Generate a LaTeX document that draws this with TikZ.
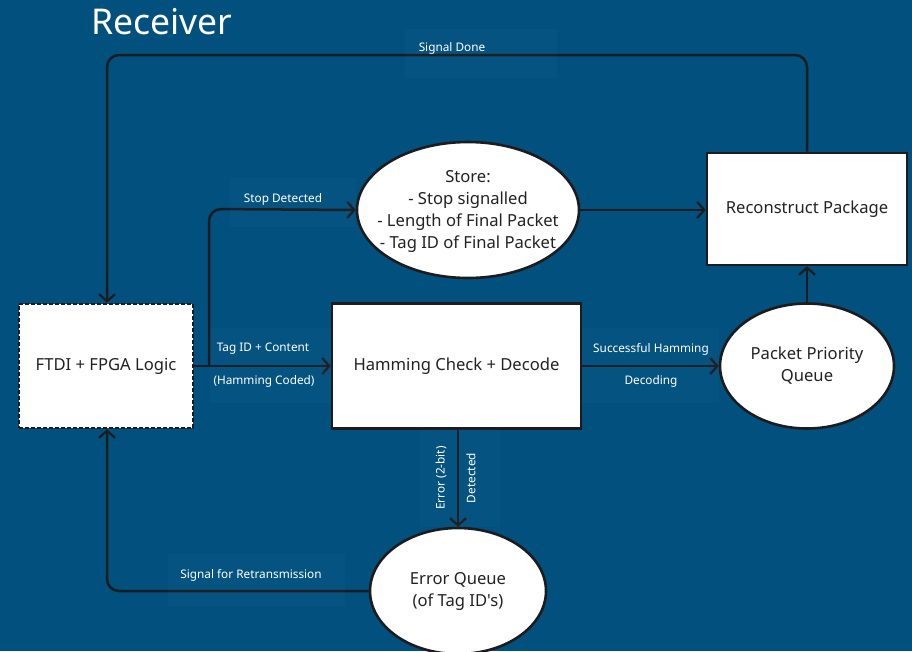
\documentclass[tikz,border=0pt]{standalone}
\usepackage{fontspec}
\setmainfont{Noto Sans}[Ligatures=TeXOff]
\usetikzlibrary{arrows.meta,shapes.geometric}
\definecolor{bgblue}{RGB}{1,80,126}
\definecolor{linec}{RGB}{28,28,30}
\definecolor{txt}{RGB}{34,34,34}
\tikzset{
  conn/.style={draw=linec,line width=2.5pt,rounded corners=12pt},
  arr/.style={-{Straight Barb[length=7pt,width=16pt,line width=2.2pt]}},
  boxn/.style={draw=linec,line width=2.6pt,fill=white,text=txt,font=\fontsize{16.6}{20}\selectfont,align=center},
  elln/.style={ellipse,draw=linec,line width=2.6pt,fill=white,text=txt,font=\fontsize{16.6}{22}\selectfont,align=center,inner sep=0pt},
  etext/.style={text=txt,font=\fontsize{16.6}{22}\selectfont,align=center,inner sep=0pt},
  lbl/.style={text=white,font=\fontsize{11.8}{13}\selectfont,inner sep=0pt},
  lblbox/.style={fill=white,fill opacity=0.02,draw=none}
}
\begin{document}
\begin{tikzpicture}[x=1pt,y=-1pt]
\fill[bgblue] (0,0) rectangle (912,651);
\useasboundingbox (0,0) rectangle (912,651);
\node[text=white,font=\fontsize{35.5}{40}\selectfont] (title) at (162,22) {Receiver};
% nodes
\node[boxn,minimum width=174pt,minimum height=124pt,dashed,dash pattern=on 4pt off 2pt] (ftdi) at (106,366) {FTDI + FPGA Logic};
\node[boxn,minimum width=249pt,minimum height=125pt] (ham) at (456.5,366) {Hamming Check + Decode};
\node[elln,minimum width=222pt,minimum height=136pt] (store) at (468,210) {};
\node[etext] (storet) at (468,211) {Store:\\- Stop signalled\\- Length of Final Packet\\- Tag ID of Final Packet};
\node[boxn,minimum width=200pt,minimum height=112pt] (rec) at (807,209) {Reconstruct Package};
\node[elln,minimum width=174pt,minimum height=125pt] (ppq) at (807,366) {};
\node[etext] (ppqt) at (807,366) {Packet Priority\\Queue};
\node[elln,minimum width=176pt,minimum height=126pt] (err) at (458,591) {};
\node[etext] (errt) at (458,591) {Error Queue\\(of Tag ID's)};
% coordinates
\coordinate (sd1) at (807,55);
\coordinate (sd2) at (107,55);
\coordinate (br) at (209,366);
\coordinate (br2) at (209,209);
\coordinate (rt) at (107,591);
% connectors
\draw[conn,arr] (rec.north) -- (sd1) -- (sd2) -- (ftdi.north -| sd2);
\draw[conn,arr] (br) -- (br2) -- (store.west);
\draw[conn,arr] (ftdi.east) -- (ham.west);
\draw[conn,arr] (store.east) -- (store.east -| rec.west);
\draw[conn,arr] (ham.east) -- (ppq.west);
\draw[conn,arr] (ppq.north) -- (rec.south);
\draw[conn,arr] (ham.south -| err.north) -- (err.north);
\draw[conn,arr] (err.west) -- (rt) -- (ftdi.south -| rt);
% label boxes
\fill[lblbox] (405,29) rectangle (557,78);
\fill[lblbox] (230,178) rectangle (356,227);
\fill[lblbox] (210,328) rectangle (331,403);
\fill[lblbox] (582,328) rectangle (719,403);
\fill[lblbox] (420,429) rectangle (500,527);
\fill[lblbox] (168,554) rectangle (345,606);
% labels
\node[lbl] (l1) at (452,48) {Signal Done};
\node[lbl] (l2) at (283,199) {Stop Detected};
\node[lbl] (l3) at (263,349) {Tag ID + Content};
\node[lbl] (l4) at (264,381) {(Hamming Coded)};
\node[lbl] (l5) at (651,349) {Successful Hamming};
\node[lbl] (l6) at (651,381) {Decoding};
\node[lbl,rotate=90] (l7) at (441,478) {Error (2-bit)};
\node[lbl,rotate=90] (l8) at (471,478) {Detected};
\node[lbl] (l9) at (251,575) {Signal for Retransmission};
\end{tikzpicture}
\end{document}
